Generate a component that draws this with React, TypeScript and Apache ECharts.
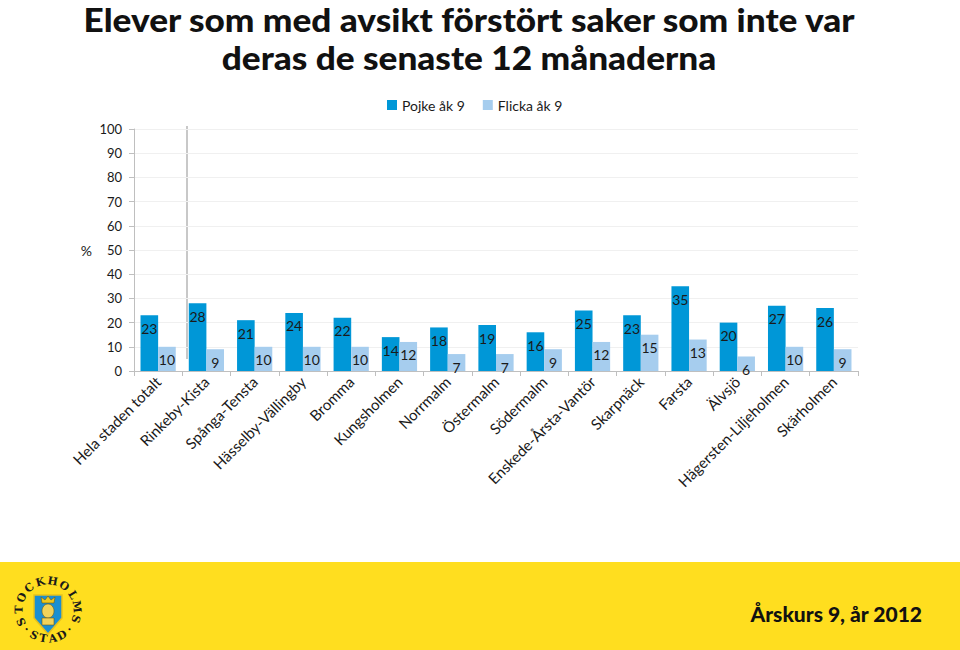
import React, { useEffect, useRef } from "react";
import * as echarts from "echarts";

const categories = [
  "Hela staden totalt", "Rinkeby-Kista", "Spånga-Tensta", "Hässelby-Vällingby", "Bromma",
  "Kungsholmen", "Norrmalm", "Östermalm", "Södermalm", "Enskede-Årsta-Vantör",
  "Skarpnäck", "Farsta", "Älvsjö", "Hägersten-Liljeholmen", "Skärholmen",
];
const pojke = [23, 28, 21, 24, 22, 14, 18, 19, 16, 25, 23, 35, 20, 27, 26];
const flicka = [10, 9, 10, 10, 10, 12, 7, 7, 9, 12, 15, 13, 6, 10, 9];
const seriesNames = ["Pojke åk 9", "Flicka åk 9"];
const titleLines = ["Elever som med avsikt förstört saker som inte var", "deras de senaste 12 månaderna"];
const footerText = "Årskurs 9, år 2012";

const FONT = "Lato, 'Open Sans', sans-serif";

function logoElements(cx: number, cy: number) {
  const els: any[] = [];
  const r = 29;
  const letterFont = "bold 11px 'DejaVu Serif', serif";
  const top = "STOCKHOLMS".split("");
  const a0 = 204, a1 = -18;
  top.forEach((ch, i) => {
    const th = ((a0 + (a1 - a0) * (i / (top.length - 1))) * Math.PI) / 180;
    els.push({
      type: "text",
      x: cx + r * Math.cos(th),
      y: cy - r * Math.sin(th),
      rotation: th - Math.PI / 2,
      style: { text: ch, fill: "#1a1a1a", font: letterFont, align: "center", verticalAlign: "middle" },
    });
  });
  const bot = "·STAD·".split("");
  const b0 = 222, b1 = 318;
  bot.forEach((ch, i) => {
    const th = ((b0 + (b1 - b0) * (i / (bot.length - 1))) * Math.PI) / 180;
    els.push({
      type: "text",
      x: cx + r * Math.cos(th),
      y: cy - r * Math.sin(th),
      rotation: th + Math.PI / 2,
      style: { text: ch, fill: "#1a1a1a", font: letterFont, align: "center", verticalAlign: "middle" },
    });
  });
  els.push({
    type: "polygon",
    shape: { points: [[cx - 14, cy - 15], [cx + 14, cy - 15], [cx + 14, cy + 8], [cx, cy + 24], [cx - 14, cy + 8]] },
    style: { fill: "#1b8fd2", stroke: "#e8c21c", lineWidth: 1.5 },
  });
  els.push({
    type: "polygon",
    shape: { points: [[cx - 6, cy - 7], [cx - 7, cy - 13], [cx - 3, cy - 10], [cx, cy - 14], [cx + 3, cy - 10], [cx + 7, cy - 13], [cx + 6, cy - 7]] },
    style: { fill: "#f0c81c", stroke: "#6b5a10", lineWidth: 0.6 },
  });
  els.push({ type: "ellipse", shape: { cx, cy: cy + 1, rx: 6, ry: 7 }, style: { fill: "#f2d35a", stroke: "#6b5a10", lineWidth: 0.6 } });
  els.push({ type: "rect", shape: { x: cx - 6, y: cy + 8, width: 12, height: 7 }, style: { fill: "#f2d35a", stroke: "#6b5a10", lineWidth: 0.6 } });
  return els;
}

export default function App() {
  const ref = useRef<HTMLDivElement>(null);
  useEffect(() => {
    if (!ref.current) return;
    const chart = echarts.init(ref.current, null, { renderer: "svg" });
    const labelStyle = {
      show: true,
      position: "insideTop" as const,
      distance: 6,
      color: "#1a1a1a",
      fontSize: 14,
      fontFamily: FONT,
    };
    chart.setOption({
      animation: false,
      backgroundColor: "#ffffff",
      textStyle: { fontFamily: FONT },
      legend: {
        data: seriesNames,
        left: 382,
        top: 93,
        itemWidth: 10,
        itemHeight: 10,
        itemGap: 18,
        icon: "rect",
        textStyle: { fontSize: 14, color: "#1a1a1a", fontFamily: FONT },
      },
      grid: { left: 134, right: 102, top: 129, bottom: 279, containLabel: false },
      xAxis: {
        type: "category",
        data: categories,
        axisLine: { lineStyle: { color: "#bfbfbf" } },
        axisTick: { show: true, length: 5, lineStyle: { color: "#bfbfbf" } },
        axisLabel: { rotate: 45, color: "#1a1a1a", fontSize: 15, fontFamily: FONT, margin: 8, interval: 0 },
      },
      yAxis: {
        type: "value",
        min: 0,
        max: 100,
        interval: 10,
        name: "%",
        nameLocation: "middle",
        nameRotate: 0,
        nameGap: 42,
        nameTextStyle: { fontSize: 14, color: "#1a1a1a", fontFamily: FONT },
        axisLine: { show: true, lineStyle: { color: "#bfbfbf" } },
        axisTick: { show: true, length: 5, lineStyle: { color: "#bfbfbf" } },
        axisLabel: { color: "#1a1a1a", fontSize: 13, fontFamily: FONT, margin: 12 },
        splitLine: { lineStyle: { color: "#f0f0f0" } },
      },
      series: [
        {
          name: seriesNames[0],
          type: "bar",
          data: pojke,
          barGap: "0%",
          barCategoryGap: "27%",
          itemStyle: { color: "#0097d7" },
          label: labelStyle,
        },
        {
          name: seriesNames[1],
          type: "bar",
          data: flicka,
          itemStyle: { color: "#a6cdee" },
          label: labelStyle,
        },
      ],
      graphic: [
        {
          type: "text",
          x: 469,
          y: 20,
          scaleX: 1.1,
          style: { text: titleLines[0], fill: "#111", font: `900 32px ${FONT}`, align: "center", verticalAlign: "middle" },
        },
        {
          type: "text",
          x: 469,
          y: 58,
          scaleX: 1.1,
          style: { text: titleLines[1], fill: "#111", font: `900 32px ${FONT}`, align: "center", verticalAlign: "middle" },
        },
        { type: "line", shape: { x1: 187, y1: 126, x2: 187, y2: 359 }, style: { stroke: "#c8c8c8", lineWidth: 2 } },
        { type: "rect", shape: { x: 0, y: 562, width: 960, height: 88 }, style: { fill: "#ffde1f" } },
        ...logoElements(48, 610),
        {
          type: "text",
          x: 922,
          y: 613,
          style: { text: footerText, fill: "#111", font: `900 21px ${FONT}`, align: "right", verticalAlign: "middle" },
        },
      ],
    });
    return () => chart.dispose();
  }, []);
  return <div ref={ref} style={{ width: 960, height: 650, position: "absolute", left: 0, top: 0 }} />;
}
